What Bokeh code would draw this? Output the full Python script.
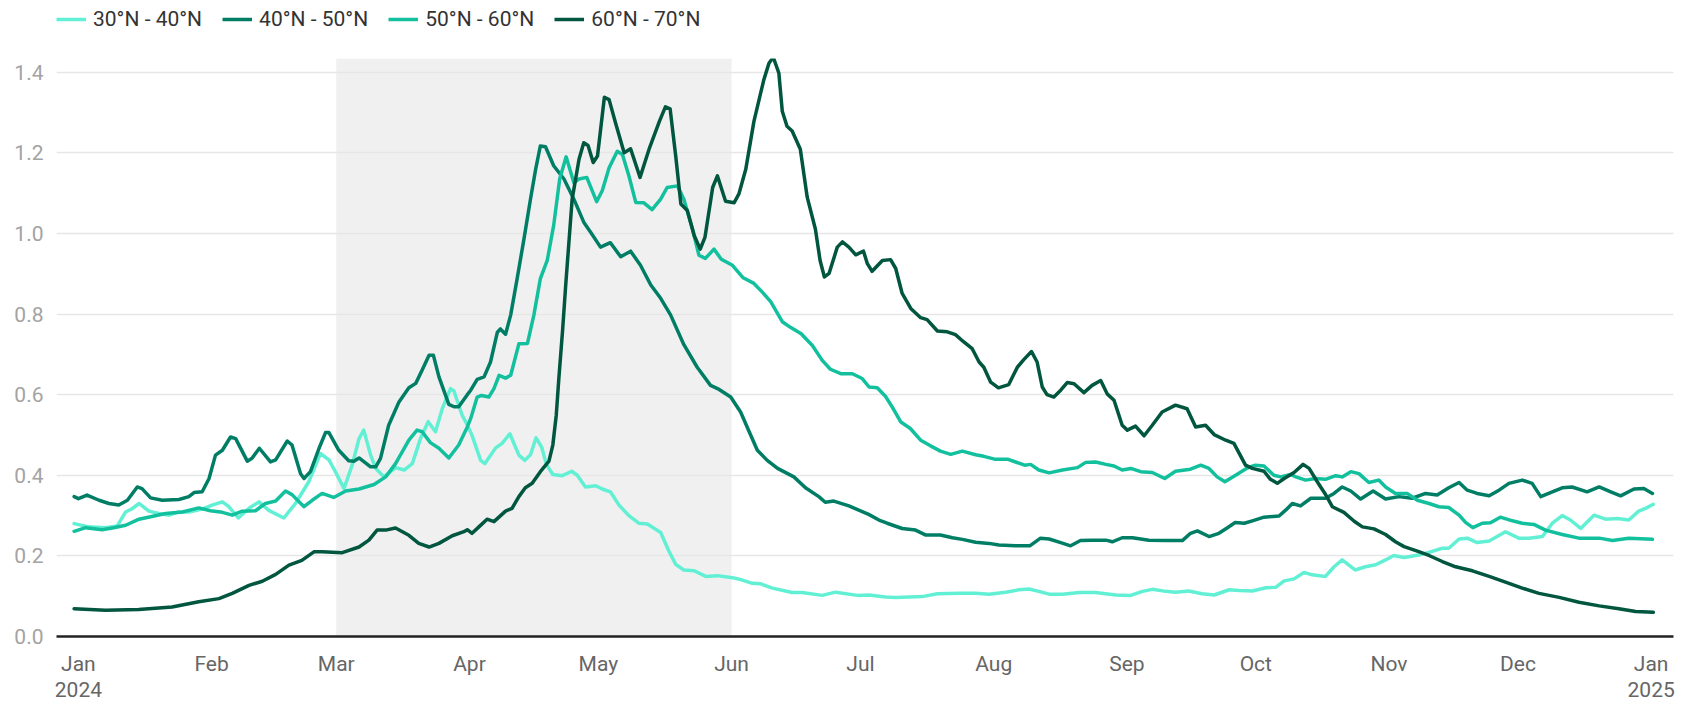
from datetime import datetime, timezone
from bokeh.plotting import figure
from bokeh.layouts import column
from bokeh.models import (Range1d, FixedTicker, NumeralTickFormatter, Legend,
                          LegendItem, BoxAnnotation)
from bokeh.embed import file_html
from bokeh.resources import INLINE

# ---------------- data (day offsets from 2024-01-01, values) ----------------
days_30_40 = [-1, 2.4, 6.3, 9, 11, 12.5, 14.1, 16.4, 18.7, 21.1, 23.4, 25.7, 28.8, 31.1, 33.5, 35, 37.2,
              39.7, 42, 44.3, 47.8, 50.5, 53.6, 56.3, 58.3, 59.8, 61.8, 63.7, 65.3, 66.4, 68, 69.2, 71.1,
              73.8, 75.8, 77.7, 79.6, 81.4, 83.1, 84.7, 86.6, 87.4, 89.3, 90.5, 91.6, 93.6, 94.6, 97.1,
              98.6, 100.4, 102.5, 103.9, 105.2, 106.5, 107.8, 108.9, 110.4, 112.6, 114.8, 116.1, 118,
              120.4, 121.9, 123.8, 125.8, 128.1, 130.4, 132.4, 135.5, 137.4, 139, 140.9, 143.3, 146,
              148.7, 152.2, 154.5, 156.8, 158.7, 161.5, 166.1, 168.4, 173.1, 176.2, 181.3, 184, 187.8,
              190.2, 196.4, 199.9, 204.9, 208.8, 211.9, 215.8, 218.9, 221.2, 223.5, 225.9, 229, 232.9,
              236.7, 241.4, 244.9, 247.6, 249.9, 253, 255.3, 258.4, 261.5, 264.3, 267.8, 270.1, 273.2,
              276.3, 278.6, 280.6, 282.9, 285.2, 287.1, 290.2, 292.2, 294.1, 297.1, 299.5, 301.9, 304.2,
              306.1, 308.5, 311.9, 315, 317.4, 318.9, 321.3, 323.2, 325.5, 328.3, 332.1, 335.2, 337.6,
              340.7, 343, 345.3, 347.2, 349.6, 352.7, 355.4, 358.1, 360.8, 363.1, 364.7, 366.5]
vals_30_40 = [0.280, 0.272, 0.270, 0.274, 0.309, 0.317, 0.330, 0.311, 0.305, 0.301, 0.309, 0.309, 0.316,
              0.326, 0.334, 0.322, 0.294, 0.318, 0.334, 0.313, 0.294, 0.330, 0.384, 0.454, 0.438, 0.409,
              0.367, 0.425, 0.491, 0.512, 0.450, 0.417, 0.396, 0.419, 0.413, 0.429, 0.491, 0.533, 0.508,
              0.566, 0.615, 0.609, 0.549, 0.525, 0.499, 0.437, 0.429, 0.468, 0.479, 0.503, 0.450, 0.437,
              0.451, 0.493, 0.470, 0.427, 0.402, 0.399, 0.410, 0.400, 0.371, 0.374, 0.366, 0.359, 0.326,
              0.300, 0.281, 0.279, 0.258, 0.212, 0.179, 0.165, 0.163, 0.149, 0.151, 0.146, 0.140, 0.132,
              0.131, 0.120, 0.109, 0.109, 0.102, 0.110, 0.102, 0.103, 0.098, 0.097, 0.099, 0.106, 0.107,
              0.107, 0.105, 0.110, 0.116, 0.118, 0.112, 0.105, 0.105, 0.109, 0.109, 0.103, 0.102, 0.112,
              0.117, 0.112, 0.110, 0.113, 0.106, 0.103, 0.116, 0.114, 0.113, 0.121, 0.122, 0.138, 0.143,
              0.159, 0.153, 0.149, 0.173, 0.190, 0.165, 0.173, 0.178, 0.190, 0.201, 0.196, 0.202, 0.211,
              0.219, 0.219, 0.242, 0.244, 0.233, 0.237, 0.260, 0.244, 0.244, 0.248, 0.281, 0.300, 0.289,
              0.268, 0.301, 0.291, 0.293, 0.289, 0.311, 0.318, 0.328]

days_40_50 = [-1, 0, 2, 4.8, 7.1, 9.4, 11.4, 13.7, 14.8, 16.8, 19.5, 23.4, 25.7, 26.9, 28.8, 30.4, 31.9,
              33.5, 35.4, 36.6, 39.3, 40.4, 42.1, 44.7, 45.9, 48.6, 49.7, 51.7, 52.5, 54, 56, 57.5, 58.3,
              60.6, 62.9, 64.1, 65.3, 68, 69.2, 70.3, 72.2, 74.6, 76.9, 78.5, 80, 81.6, 82.6, 83.9, 86.2,
              87.4, 88.5, 90.5, 91.3, 92.8, 94.4, 95.9, 97.5, 98.2, 99.4, 100.6, 102.1, 103.7, 105.2,
              106.4, 107.5, 108.7, 110.6, 113, 115.3, 117.6, 119.2, 121.5, 123.8, 126.2, 128.5, 130.8,
              133.2, 135.5, 137.8, 140.9, 144, 147.1, 149.1, 151.8, 154.1, 156.1, 158, 160.3, 162.7,
              166.5, 169.2, 172.3, 173.8, 175.8, 179.3, 183.9, 186.3, 188.2, 191.7, 194.8, 197.1, 200.6,
              203.4, 205.7, 208.8, 211.9, 214.2, 218.1, 221.4, 223.9, 225.9, 228.6, 230.9, 233.2, 235.9,
              239.1, 240.6, 242.9, 245.3, 249.1, 253, 256.9, 258.8, 260.4, 263.1, 265.4, 267.4, 269.2,
              271.3, 273.2, 275.9, 279.4, 281, 282.5, 284.4, 286.8, 290.2, 292.2, 294.1, 296.1, 298.4,
              301.3, 304.2, 307.3, 310.4, 313.5, 316.2, 318.9, 321.3, 323.2, 325.5, 328.3, 330.6, 332.9,
              336, 338.3, 340.3, 343, 345.3, 347.6, 351.1, 353.9, 356.6, 358.9, 362, 364.3, 366.3]
vals_40_50 = [0.347, 0.342, 0.351, 0.338, 0.330, 0.326, 0.338, 0.371, 0.367, 0.344, 0.338, 0.340, 0.347,
              0.357, 0.359, 0.392, 0.450, 0.462, 0.495, 0.491, 0.435, 0.442, 0.467, 0.433, 0.438, 0.485,
              0.475, 0.404, 0.392, 0.409, 0.467, 0.506, 0.506, 0.462, 0.436, 0.435, 0.443, 0.421, 0.421,
              0.442, 0.524, 0.582, 0.617, 0.628, 0.661, 0.698, 0.698, 0.644, 0.576, 0.570, 0.570, 0.600,
              0.611, 0.638, 0.644, 0.681, 0.755, 0.763, 0.750, 0.798, 0.888, 0.987, 1.085, 1.159, 1.217,
              1.215, 1.168, 1.135, 1.085, 1.028, 1.003, 0.966, 0.977, 0.942, 0.956, 0.921, 0.872, 0.839,
              0.798, 0.724, 0.668, 0.623, 0.613, 0.594, 0.557, 0.508, 0.462, 0.437, 0.417, 0.396, 0.369,
              0.347, 0.333, 0.336, 0.324, 0.303, 0.289, 0.281, 0.268, 0.264, 0.252, 0.252, 0.245, 0.241,
              0.234, 0.231, 0.227, 0.225, 0.225, 0.244, 0.242, 0.233, 0.225, 0.238, 0.239, 0.239, 0.235,
              0.245, 0.245, 0.239, 0.238, 0.238, 0.256, 0.262, 0.248, 0.256, 0.270, 0.283, 0.281, 0.287,
              0.296, 0.299, 0.314, 0.330, 0.324, 0.343, 0.343, 0.355, 0.371, 0.361, 0.341, 0.361, 0.341,
              0.347, 0.343, 0.355, 0.351, 0.369, 0.382, 0.363, 0.355, 0.349, 0.363, 0.380, 0.388, 0.380,
              0.347, 0.359, 0.369, 0.371, 0.359, 0.371, 0.359, 0.349, 0.366, 0.367, 0.355]

days_50_60 = [-1, 1.7, 5.5, 8.2, 11, 14.1, 16.8, 20.3, 24.2, 28, 30.7, 33.5, 35.8, 38.1, 41.2, 43.5, 45.9,
              48.2, 49.7, 52.5, 54.4, 56.7, 59.4, 62.2, 65.3, 68.8, 71.5, 73.8, 76.9, 78.8, 80, 81.9, 83.9,
              86.2, 88.5, 90.5, 91.3, 92.8, 93.8, 95.5, 96.7, 97.9, 99.4, 100.6, 102.5, 104.5, 106, 107.5,
              109.1, 110.6, 112, 113.5, 115.3, 116.5, 118.3, 120.6, 121.9, 123.5, 125.4, 126.6, 128.1,
              129.7, 131.6, 133.5, 135.5, 137, 139.4, 140.9, 142.9, 144.4, 145.9, 147.9, 149.6, 152.2,
              154.7, 157.2, 159.1, 161.1, 163.8, 165.7, 168.2, 170.8, 173.1, 175, 177.4, 180.1, 182.4,
              184, 185.9, 187.8, 189.4, 191.4, 193.6, 196, 198.3, 200.6, 203, 205.7, 208.8, 210.7, 213.2,
              216.2, 218.1, 220.2, 221.6, 223.5, 225.9, 229, 232.5, 234.4, 236.7, 239.1, 241, 242.9,
              244.9, 247.2, 249.9, 252.8, 255.3, 258.8, 261.2, 263.1, 265, 266.8, 269.3, 272, 273.9,
              275.9, 278.2, 279.8, 282.1, 283.3, 285.6, 287.9, 290.2, 292.6, 294.1, 296.1, 298, 300.3,
              302.6, 304.2, 306.5, 309.2, 311.6, 314.3, 316.6, 318.9, 321.3, 322.8, 324.5, 326.7, 328.6,
              330.9, 333.7, 336, 338.7, 341.4, 345.3, 349.2, 353.9, 357, 360.8, 366.3]
vals_50_60 = [0.261, 0.270, 0.265, 0.270, 0.276, 0.291, 0.297, 0.305, 0.309, 0.319, 0.312, 0.308, 0.301,
              0.311, 0.312, 0.330, 0.336, 0.361, 0.352, 0.322, 0.338, 0.355, 0.345, 0.361, 0.366, 0.377,
              0.396, 0.429, 0.487, 0.512, 0.508, 0.481, 0.467, 0.443, 0.475, 0.520, 0.541, 0.594, 0.598,
              0.594, 0.615, 0.648, 0.641, 0.648, 0.726, 0.727, 0.798, 0.888, 0.933, 1.020, 1.135, 1.190,
              1.126, 1.135, 1.139, 1.079, 1.106, 1.163, 1.204, 1.196, 1.143, 1.077, 1.076, 1.059, 1.085,
              1.114, 1.118, 1.085, 1.011, 0.946, 0.938, 0.961, 0.936, 0.921, 0.890, 0.876, 0.855, 0.831,
              0.781, 0.767, 0.751, 0.722, 0.685, 0.663, 0.652, 0.652, 0.640, 0.619, 0.617, 0.596, 0.569,
              0.532, 0.516, 0.487, 0.473, 0.460, 0.452, 0.460, 0.451, 0.447, 0.440, 0.440, 0.433, 0.425,
              0.427, 0.413, 0.406, 0.413, 0.419, 0.432, 0.433, 0.427, 0.423, 0.413, 0.417, 0.409, 0.407,
              0.392, 0.410, 0.415, 0.425, 0.417, 0.396, 0.384, 0.400, 0.418, 0.425, 0.423, 0.400, 0.396,
              0.402, 0.396, 0.388, 0.392, 0.390, 0.399, 0.396, 0.409, 0.404, 0.382, 0.388, 0.371, 0.355,
              0.355, 0.338, 0.330, 0.322, 0.320, 0.301, 0.283, 0.270, 0.281, 0.282, 0.296, 0.287, 0.281,
              0.278, 0.264, 0.253, 0.244, 0.244, 0.238, 0.244, 0.241]

days_60_70 = [-1, 6.3, 14, 21.8, 28, 32.7, 35.8, 39.7, 42.8, 45.9, 49, 52, 54.8, 56.7, 61.4, 65.3, 67.6,
              69.5, 71.5, 73.8, 76.9, 79.2, 81.6, 83.9, 87, 89.7, 90.5, 91.6, 93.2, 95.1, 96.7, 99.4,
              100.9, 102.5, 104, 105.6, 107.5, 109.5, 110.4, 111.2, 111.8, 112.7, 113.4, 114.9, 116.5,
              117.6, 118.6, 119.8, 120.8, 122.4, 123.5, 125, 127, 128.5, 130.7, 132.8, 135.2, 136.6,
              137.7, 139, 140.2, 141.7, 143.3, 144.7, 145.8, 147.6, 148.7, 150.6, 152.6, 153.7, 155.3,
              157.2, 159.5, 160.7, 161.7, 163, 163.8, 164.9, 166.1, 168, 169.6, 171.5, 172.6, 173.6,
              174.7, 176.6, 177.8, 179.3, 180.9, 182.7, 183.6, 184.7, 187.1, 189, 190.2, 191.7, 193.7,
              196, 197.5, 199.9, 202.2, 204.1, 205.9, 208, 209.6, 210.7, 212.3, 214.1, 216.5, 218.5, 220,
              221.8, 223.1, 224.3, 225.4, 227, 228.6, 230.1, 231.7, 234, 235.9, 237.9, 239.4, 241, 242.9,
              244.1, 246, 248, 249.9, 252.2, 255.3, 258, 260, 262.3, 264.3, 267, 268.9, 271.6, 273.2,
              275.9, 277.4, 279, 280.6, 282.9, 285, 286.4, 288.3, 290.3, 291.8, 294.5, 296.9, 298.8,
              301.5, 304.2, 306.5, 308.5, 311.6, 314.3, 317.4, 320.5, 324.4, 328.3, 332.1, 336, 339.9,
              344.6, 349.2, 353.9, 358.5, 362.4, 366.5]
vals_60_70 = [0.069, 0.065, 0.067, 0.073, 0.086, 0.094, 0.107, 0.127, 0.137, 0.154, 0.177, 0.189, 0.210,
              0.210, 0.208, 0.222, 0.239, 0.264, 0.264, 0.269, 0.251, 0.231, 0.222, 0.231, 0.250, 0.260,
              0.265, 0.256, 0.272, 0.291, 0.285, 0.311, 0.318, 0.347, 0.369, 0.380, 0.409, 0.435, 0.475,
              0.549, 0.640, 0.763, 0.872, 1.085, 1.184, 1.225, 1.218, 1.176, 1.192, 1.338, 1.332, 1.274,
              1.200, 1.210, 1.139, 1.209, 1.278, 1.314, 1.309, 1.192, 1.073, 1.057, 0.995, 0.961, 0.990,
              1.114, 1.143, 1.080, 1.076, 1.098, 1.159, 1.278, 1.381, 1.422, 1.437, 1.398, 1.303, 1.266,
              1.254, 1.209, 1.090, 1.011, 0.933, 0.892, 0.901, 0.966, 0.979, 0.966, 0.947, 0.956, 0.925,
              0.906, 0.933, 0.935, 0.913, 0.851, 0.814, 0.791, 0.786, 0.758, 0.756, 0.749, 0.732, 0.714,
              0.681, 0.668, 0.631, 0.617, 0.625, 0.668, 0.687, 0.707, 0.681, 0.619, 0.600, 0.594, 0.611,
              0.630, 0.627, 0.605, 0.623, 0.635, 0.602, 0.586, 0.524, 0.512, 0.522, 0.498, 0.524, 0.557,
              0.574, 0.565, 0.520, 0.524, 0.501, 0.487, 0.479, 0.425, 0.417, 0.410, 0.390, 0.380, 0.392,
              0.407, 0.427, 0.417, 0.384, 0.351, 0.322, 0.308, 0.286, 0.272, 0.267, 0.253, 0.235, 0.223,
              0.212, 0.201, 0.186, 0.173, 0.163, 0.149, 0.135, 0.120, 0.107, 0.097, 0.085, 0.076, 0.069,
              0.062, 0.060]

series_labels = ["30°N - 40°N", "40°N - 50°N", "50°N - 60°N", "60°N - 70°N"]
series_colors = ["#62f0d5", "#007e65", "#12c09e", "#00563e"]
month_labels = ["Jan\n2024", "Feb", "Mar", "Apr", "May", "Jun", "Jul", "Aug", "Sep", "Oct", "Nov", "Dec",
                "Jan\n2025"]
y_ticks = [0.0, 0.2, 0.4, 0.6, 0.8, 1.0, 1.2, 1.4]
shade_start = (2024, 3, 1)
shade_end = (2024, 6, 1)

# ---------------- helpers ----------------
DAY = 86400000.0


def ms(y, m, d):
    return datetime(y, m, d, tzinfo=timezone.utc).timestamp() * 1000.0


BASE = ms(2024, 1, 1)


def to_ms(days):
    return [BASE + d * DAY for d in days]


month_ticks = [ms(2024, m, 1) for m in range(1, 13)] + [ms(2025, 1, 1)]
FONT = "Roboto"
all_days = [days_30_40, days_40_50, days_50_60, days_60_70]
all_vals = [vals_30_40, vals_40_50, vals_50_60, vals_60_70]

LEG_H = 38
p = figure(width=1681, height=704 - LEG_H, output_backend="svg", toolbar_location=None,
           x_axis_type="datetime",
           x_range=Range1d(BASE - 5.1 * DAY, BASE + 371.2 * DAY),
           y_range=Range1d(0, 1.434),
           min_border_left=56, min_border_right=8, min_border_top=58 - LEG_H, min_border_bottom=64)
p.outline_line_color = None
p.background_fill_color = "white"
p.border_fill_color = "white"

# shaded period
p.add_layout(BoxAnnotation(left=ms(*shade_start), right=ms(*shade_end), fill_color="#f0f0f0",
                           fill_alpha=1.0, line_color=None, level="image"))

# axes
yt = FixedTicker(ticks=y_ticks)
p.yaxis.ticker = yt
p.yaxis.formatter = NumeralTickFormatter(format="0.0")
p.yaxis.axis_line_color = None
p.yaxis.major_tick_line_color = None
p.yaxis.minor_tick_line_color = None
p.yaxis.major_tick_out = 0
p.yaxis.major_tick_in = 0
p.yaxis.minor_tick_out = 0
p.yaxis.major_label_standoff = 13
p.yaxis.major_label_text_font = FONT
p.yaxis.major_label_text_font_size = "21px"
p.yaxis.major_label_text_color = "#a3a3a3"

p.xaxis.ticker = FixedTicker(ticks=month_ticks)
p.xaxis.major_label_overrides = {t: lab for t, lab in zip(month_ticks, month_labels)}
p.xaxis.axis_line_color = "#222222"
p.xaxis.axis_line_width = 2.5
p.xaxis.major_tick_line_color = None
p.xaxis.minor_tick_line_color = None
p.xaxis.major_tick_out = 0
p.xaxis.major_tick_in = 0
p.xaxis.minor_tick_out = 0
p.xaxis.major_label_standoff = 15
p.xaxis.major_label_text_font = FONT
p.xaxis.major_label_text_font_size = "21px"
p.xaxis.major_label_text_line_height = 1.1
p.xaxis.major_label_text_color = "#666666"

p.xgrid.visible = False
p.ygrid.ticker = yt
p.ygrid.grid_line_color = "#e6e6e6"
p.ygrid.grid_line_width = 1.5

# lines
for d, v, c in zip(all_days, all_vals, series_colors):
    p.line(x=to_ms(d), y=v, line_color=c, line_width=3.5, line_join="round", line_cap="round")

# ---------------- legend strip above the chart ----------------
# The strip's ranges lie outside the data, so its series only serve as legend keys.
lg = figure(width=1681, height=LEG_H, output_backend="svg", toolbar_location=None,
            x_range=Range1d(0, 1), y_range=Range1d(0, 1),
            min_border_left=12, min_border_right=0, min_border_top=0, min_border_bottom=0)
lg.axis.visible = False
lg.grid.visible = False
lg.outline_line_color = None
lg.background_fill_color = "white"
lg.border_fill_color = "white"
items = []
for d, v, c, lab in zip(all_days, all_vals, series_colors, series_labels):
    r = lg.line(x=to_ms(d), y=v, line_color=c, line_width=3.5)
    items.append(LegendItem(label=lab, renderers=[r]))
legend = Legend(items=items, orientation="horizontal", location="top_left",
                label_text_font=FONT, label_text_font_size="21px", label_text_color="#333333",
                glyph_width=30, glyph_height=LEG_H, label_height=LEG_H, label_standoff=7, spacing=20,
                padding=0, margin=0, border_line_color=None, background_fill_alpha=0)
lg.add_layout(legend, "center")

layout = column(lg, p, spacing=0)
open("out.html", "w").write(file_html(layout, INLINE))
